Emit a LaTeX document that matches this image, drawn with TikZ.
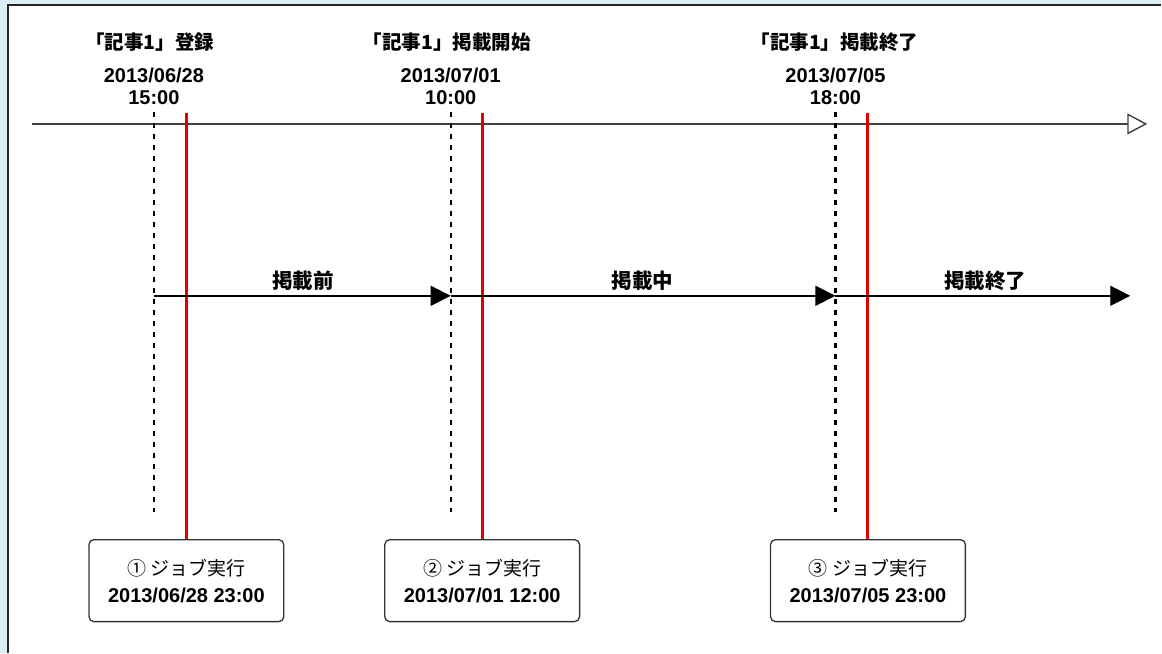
\documentclass[tikz,border=0pt]{standalone}
\usepackage{fontspec}
\setmainfont{Liberation Sans}
\newfontfamily\jp{Noto Sans CJK JP}
\usetikzlibrary{arrows.meta}
\definecolor{bgblue}{HTML}{DAEEF3}
\definecolor{redline}{HTML}{E00000}
\definecolor{axis}{HTML}{404040}
\tikzset{
  head/.style={font=\jp\bfseries\fontsize{19.5}{22}\selectfont, inner sep=0pt},
  datetxt/.style={font=\bfseries\fontsize{20}{22}\selectfont, align=center, inner sep=0pt},
  phase/.style={font=\jp\bfseries\fontsize{20.5}{22}\selectfont, inner sep=0pt},
  jobbox/.style={draw=black!80, line width=1.3pt, rounded corners=5pt, fill=white,
    minimum width=195pt, minimum height=82pt, align=center, inner sep=0pt,
    font=\fontsize{20}{27}\selectfont},
  dashline/.style={line width=2.3pt, black, dash pattern=on 5pt off 6pt},
  redl/.style={line width=3pt, redline},
  mainaxis/.style={line width=1.4pt, axis, -{Triangle[open, length=20pt, width=21pt, fill=white]}},
  phasearrow/.style={line width=1.4pt, black, -{Triangle[length=20pt, width=20pt]}},
}
\newcommand{\jobtext}[2]{{\jp\fontsize{19}{27}\selectfont #1}\\{\bfseries #2}}
\begin{document}
\begin{tikzpicture}[x=1pt,y=-1pt]
\fill[bgblue] (0,0) rectangle (1162,653);
\fill[white] (8,5) rectangle (1162,653);
\draw[line width=1.5pt, black!85] (8,653) -- (8,5) -- (1162,5);
\useasboundingbox (0,0) rectangle (1162,653);

% headers
\node[head] (h1) at (150,42) {「記事1」登録};
\node[head] (h2) at (447,42) {「記事1」掲載開始};
\node[head] (h3) at (835,42) {「記事1」掲載終了};
\node[datetxt] (t1) at (154,86) {2013/06/28\\15:00};
\node[datetxt] (t2) at (451,86) {2013/07/01\\10:00};
\node[datetxt] (t3) at (836,86) {2013/07/05\\18:00};

% main axis
\coordinate (ax0) at (32,124);
\coordinate (ax1) at (1148,124);
\draw[mainaxis] (ax0) -- (ax1);

% boxes
\node[jobbox] (b1) at (186.5,581) {\jobtext{① ジョブ実行}{2013/06/28 23:00}};
\node[jobbox] (b2) at (482.5,581) {\jobtext{② ジョブ実行}{2013/07/01 12:00}};
\node[jobbox] (b3) at (868.5,581) {\jobtext{③ ジョブ実行}{2013/07/05 23:00}};

% dashed event lines
\coordinate (d1t) at (154,112); \coordinate (d1b) at (154,512);
\coordinate (d2t) at (451,112); \coordinate (d2b) at (451,512);
\coordinate (d3t) at (836,112); \coordinate (d3b) at (836,512);
\draw[dashline] (d1t) -- (d1b);
\draw[dashline] (d2t) -- (d2b);
\draw[dashline] (d3t) -- (d3b);

% red job lines
\coordinate (r1t) at (186.5,113);
\coordinate (r2t) at (482.5,113);
\coordinate (r3t) at (868.5,113);
\draw[redl] (r1t) -- (b1.north);
\draw[redl] (r2t) -- (b2.north);
\draw[redl] (r3t) -- (b3.north);

% phase arrows
\coordinate (p0) at (154,296);
\coordinate (p1) at (451,296);
\coordinate (p2) at (836,296);
\coordinate (p3) at (1131,296);
\draw[phasearrow] (p0) -- (p1);
\draw[phasearrow] (p1) -- (p2);
\draw[phasearrow] (p2) -- (p3);
\node[phase] (l1) at (303,281) {掲載前};
\node[phase] (l2) at (643,281) {掲載中};
\node[phase] (l3) at (986,281) {掲載終了};
\end{tikzpicture}
\end{document}
